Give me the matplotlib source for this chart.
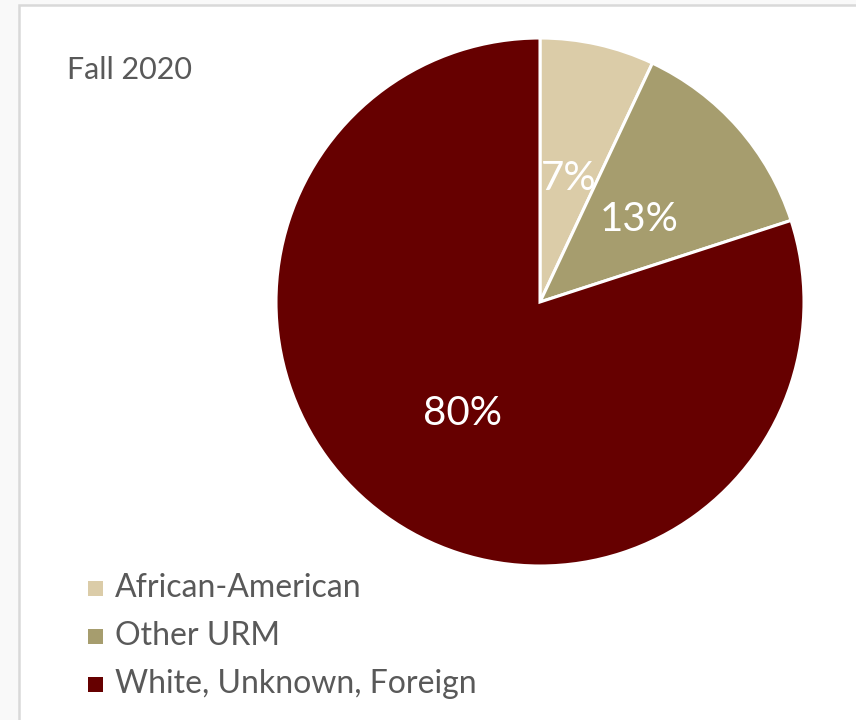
import matplotlib
matplotlib.use("Agg")
import matplotlib.pyplot as plt
from matplotlib.patches import Rectangle
from matplotlib.transforms import offset_copy

plt.rcParams['font.family'] = ['Lato', 'DejaVu Sans']

title = "Fall 2020"
categories = ["African-American", "Other URM", "White, Unknown, Foreign"]
shares = [7, 13, 80]
colors = ["#DBCCA8", "#A69D6E", "#660000"]

W, H = 856, 720
fig = plt.figure(figsize=(W / 100, H / 100), dpi=100)
fig.patch.set_facecolor("#f9f9f9")

# chart area with light frame on left and top
area = Rectangle((19 / W, -0.05), 1.1, (H - 5) / H + 0.05, transform=fig.transFigure,
                 facecolor="white", edgecolor="#d9d9d9", linewidth=1.8, zorder=-5)
fig.patches.append(area)

cx, cy, r = 540, 302, 264
ax = fig.add_axes([(cx - r) / W, (H - cy - r) / H, 2 * r / W, 2 * r / H])
ax.set_zorder(2)
wedges, texts, autotexts = ax.pie(
    shares, colors=colors, startangle=90, counterclock=False,
    autopct=lambda p: f"{p:.0f}%", pctdistance=0.5,
    wedgeprops=dict(edgecolor="white", linewidth=2.2),
    textprops=dict(color="white", fontsize=29),
)
# nudge the percentage labels slightly downward
for t in autotexts:
    t.set_transform(offset_copy(ax.transData, fig=fig, x=0, y=-5, units="dots"))
ax.set_xlim(-1, 1)
ax.set_ylim(-1, 1)
ax.set_aspect("equal")

fig.text(67 / W, 1 - 70 / H, title, fontsize=22, color="#595959",
         ha="left", va="center")

# legend entries
row_y = [588, 636, 684]
for name, col, yy in zip(categories, colors, row_y):
    fig.patches.append(Rectangle((88 / W, 1 - (yy + 7.5) / H), 15 / W, 15 / H,
                                 transform=fig.transFigure, facecolor=col,
                                 edgecolor="none", zorder=1))
    fig.text(115 / W, 1 - yy / H, name, fontsize=23, color="#595959",
             ha="left", va="center")

fig.savefig("out.png", dpi=100)
